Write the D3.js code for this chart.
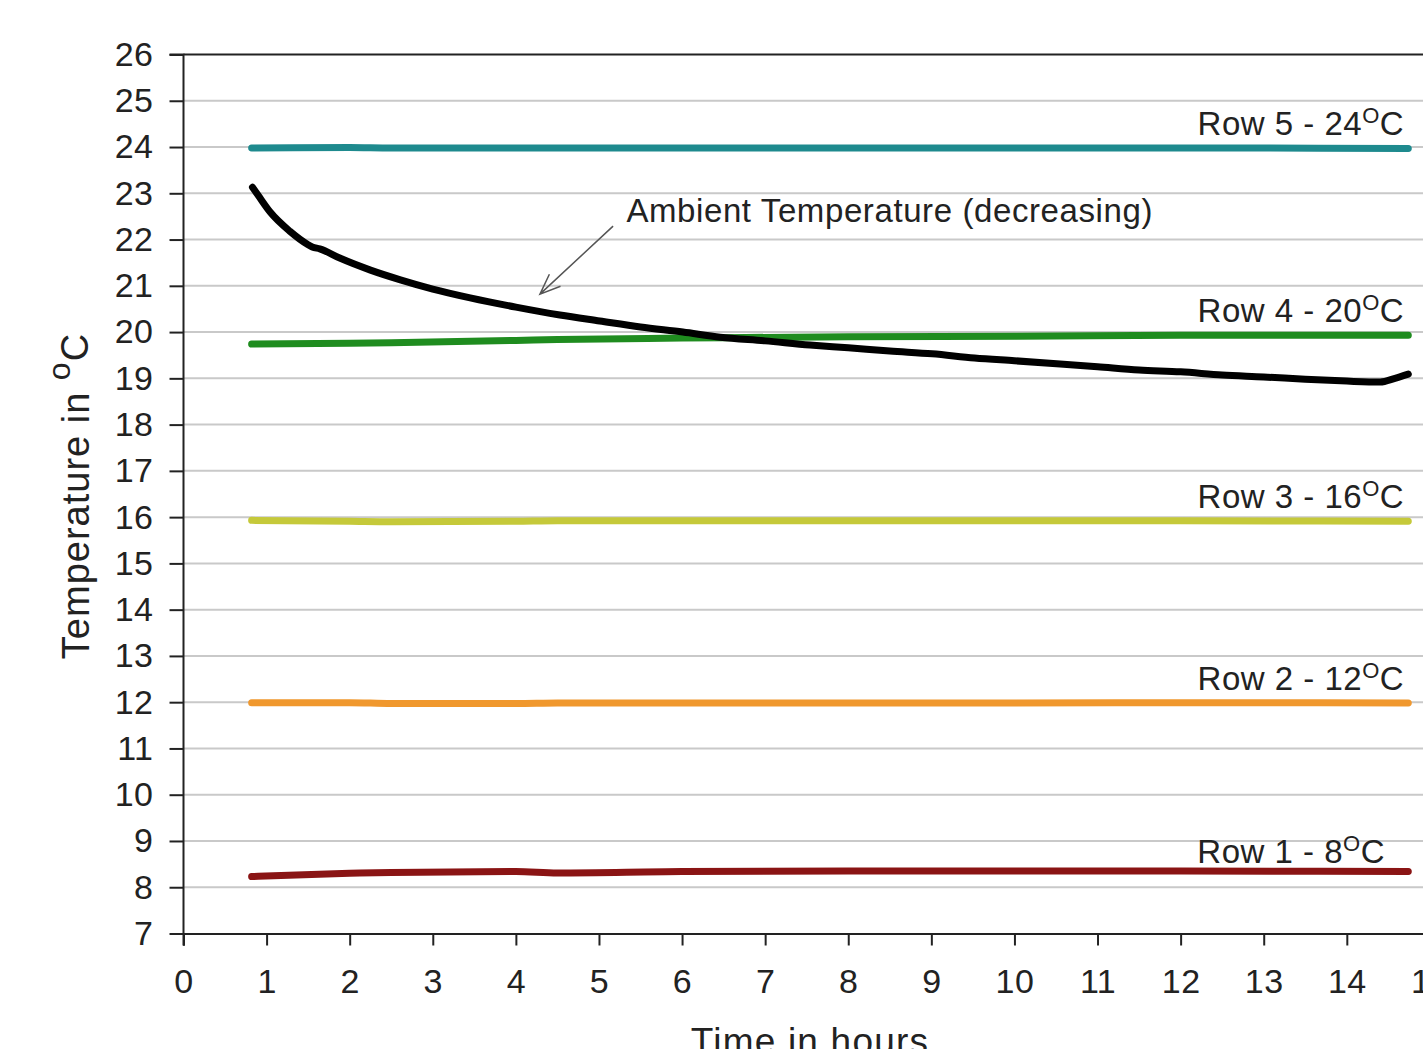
<!DOCTYPE html>
<html>
<head>
<meta charset="utf-8">
<script src="https://cdn.jsdelivr.net/npm/d3@7"></script>
<style>
  body { margin: 0; background: #fff; overflow: hidden; }
  text { font-family: "Liberation Sans", Arial, sans-serif; fill: #222; }
</style>
</head>
<body>
<script>
// time in hours, temperature in degrees C
const ambientTime = [0.83, 0.9, 1.04, 1.28, 1.49, 1.55, 1.64, 1.88, 2.25, 2.61, 3.0, 3.45, 4.0, 4.53, 5.01, 5.5, 6.01, 6.46, 7.0, 7.54, 8.0, 8.5, 9.01, 9.52, 10.0, 10.55, 11.0, 11.5, 12.0, 12.5, 13.0, 13.5, 14.0, 14.4, 14.58, 14.74];
const ambientTemp = [23.13, 22.95, 22.6, 22.18, 21.9, 21.84, 21.8, 21.6, 21.34, 21.13, 20.93, 20.74, 20.54, 20.37, 20.24, 20.11, 20.0, 19.89, 19.81, 19.72, 19.66, 19.59, 19.53, 19.44, 19.38, 19.31, 19.25, 19.18, 19.14, 19.07, 19.03, 18.98, 18.94, 18.92, 19.0, 19.09];

const rowTime = [0.82, 2, 2.5, 4, 4.5, 6, 8, 10, 12, 14.74];
const row5Temp = [23.98, 23.99, 23.98, 23.98, 23.98, 23.98, 23.98, 23.98, 23.98, 23.97];
const row4Temp = [19.74, 19.76, 19.77, 19.82, 19.84, 19.87, 19.9, 19.91, 19.93, 19.93];
const row3Temp = [15.93, 15.91, 15.9, 15.91, 15.92, 15.92, 15.92, 15.92, 15.92, 15.91];
const row2Temp = [11.99, 11.99, 11.97, 11.97, 11.98, 11.98, 11.98, 11.98, 11.99, 11.98];
const row1Temp = [8.23, 8.3, 8.32, 8.34, 8.31, 8.34, 8.35, 8.35, 8.35, 8.34];

const rowNames = ["Row 5 - 24", "Row 4 - 20", "Row 3 - 16", "Row 2 - 12", "Row 1 - 8"];
const rowColors = ["#1e8a8e", "#1f8c1f", "#c5c93a", "#f0982e", "#8a1414"];
const rowSeries = [row5Temp, row4Temp, row3Temp, row2Temp, row1Temp];
// label anchor (right end, baseline) in data units
const labelTime = [14.69, 14.69, 14.69, 14.69, 14.46];
const labelTemp = [24.26, 20.22, 16.2, 12.27, 8.53];

const xTicks = d3.range(0, 17);
const yTicks = d3.range(7, 27);

const width = 1423, height = 1049;

const x = d3.scaleLinear().domain([0, 16]).range([183.5, 1513]);
const y = d3.scaleLinear().domain([7, 26]).range([933.5, 54.5]);

const svg = d3.select("body").append("svg")
  .attr("width", width)
  .attr("height", height);

// gridlines
svg.append("g")
  .selectAll("line")
  .data(yTicks.filter(d => d > 7 && d < 26))
  .enter()
  .append("line")
  .attr("x1", x(0)).attr("x2", x(16))
  .attr("y1", d => y(d)).attr("y2", d => y(d))
  .style("stroke", "#c9c9c9")
  .style("stroke-width", 2);

// top border
svg.append("line")
  .attr("x1", x(0)).attr("x2", x(16))
  .attr("y1", y(26)).attr("y2", y(26))
  .style("stroke", "#222").style("stroke-width", 2);

// axes
let yAxis = d3.axisLeft(y).tickValues(yTicks).tickSize(14).tickPadding(16).tickFormat(d3.format("d"));
let gy = svg.append("g").attr("transform", "translate(" + x(0) + ",0)").call(yAxis);

let xAxis = d3.axisBottom(x).tickValues(xTicks).tickSize(12).tickPadding(23).tickFormat(d3.format("d"));
let gx = svg.append("g").attr("transform", "translate(0," + y(7) + ")").call(xAxis);

[gx, gy].forEach(g => {
  g.select(".domain").style("stroke", "#222").style("stroke-width", 2);
  g.selectAll(".tick line").style("stroke", "#222").style("stroke-width", 2);
  g.selectAll(".tick text")
    .style("font-family", "Liberation Sans, Arial, sans-serif")
    .style("font-size", "34px")
    .style("letter-spacing", "0.5px")
    .style("fill", "#222");
});
gy.select(".domain").attr("d", "M-14," + y(26) + "H0V" + (y(7) + 12));

// lines
let line = d3.line()
  .x(d => x(d[0]))
  .y(d => y(d[1]))
  .curve(d3.curveMonotoneX);

rowSeries.forEach((vals, i) => {
  svg.append("path")
    .datum(rowTime.map((t, j) => [t, vals[j]]))
    .attr("d", line)
    .style("fill", "none")
    .style("stroke", rowColors[i])
    .style("stroke-width", 7)
    .style("stroke-linecap", "round");
});

svg.append("path")
  .datum(ambientTime.map((t, j) => [t, ambientTemp[j]]))
  .attr("d", line)
  .style("fill", "none")
  .style("stroke", "#000")
  .style("stroke-width", 7)
  .style("stroke-linecap", "round")
  .style("stroke-linejoin", "round");

// row labels
rowNames.forEach((name, i) => {
  let t = svg.append("text")
    .attr("x", x(labelTime[i]))
    .attr("y", y(labelTemp[i]))
    .attr("text-anchor", "end")
    .style("font-size", "33px")
    .style("letter-spacing", "0.5px");
  t.append("tspan").text(name);
  t.append("tspan").attr("dy", "-0.55em").style("font-size", "22px").text("O");
  t.append("tspan").attr("dy", "0.37em").text("C");
});

// ambient annotation
svg.append("text")
  .attr("x", x(5.33))
  .attr("y", y(22.38))
  .style("font-size", "33px")
  .style("letter-spacing", "0.6px")
  .text("Ambient Temperature (decreasing)");

let ax1 = x(5.17), ay1 = y(22.29), ax2 = x(4.29), ay2 = y(20.82);
let ang = Math.atan2(ay1 - ay2, ax1 - ax2);
let head = 22, spread = 0.38;
svg.append("path")
  .attr("d", "M" + ax1 + "," + ay1 + "L" + ax2 + "," + ay2 +
    "M" + (ax2 + head * Math.cos(ang - spread)) + "," + (ay2 + head * Math.sin(ang - spread)) +
    "L" + ax2 + "," + ay2 +
    "L" + (ax2 + head * Math.cos(ang + spread)) + "," + (ay2 + head * Math.sin(ang + spread)))
  .style("fill", "none")
  .style("stroke", "#555")
  .style("stroke-width", 1.5);

// axis titles
let ty = svg.append("text")
  .attr("transform", "translate(89," + ((y(26) + y(7)) / 2 + 2) + ") rotate(-90)")
  .attr("text-anchor", "middle")
  .style("font-size", "38px")
  .style("letter-spacing", "1px");
ty.append("tspan").text("Temperature in ");
ty.append("tspan").attr("dy", "-0.6em").style("font-size", "32px").text("o");
ty.append("tspan").attr("dy", "0.49em").text("C");

svg.append("text")
  .attr("x", 810)
  .attr("y", 1054)
  .attr("text-anchor", "middle")
  .style("font-size", "37px")
  .style("letter-spacing", "1.2px")
  .text("Time in hours");
</script>
</body>
</html>
